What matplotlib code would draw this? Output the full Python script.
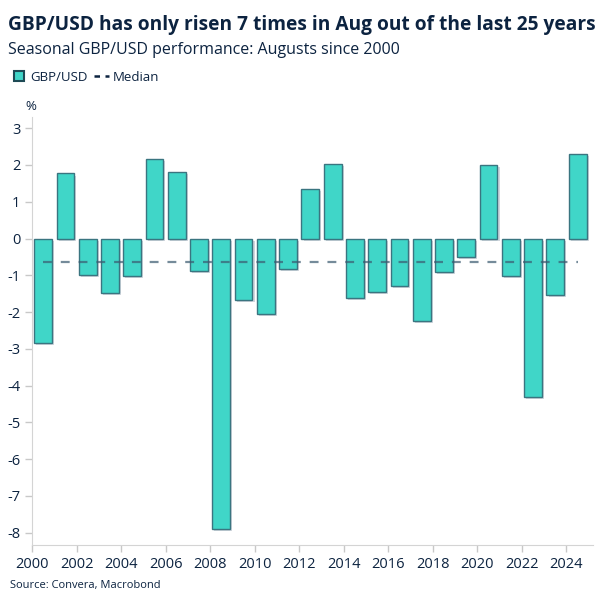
import matplotlib
matplotlib.use("Agg")
import matplotlib.pyplot as plt
from matplotlib.lines import Line2D
from matplotlib import patheffects as pe

years = list(range(2000, 2025))
changes = [-2.85, 1.77, -0.98, -1.49, -1.03, 2.17, 1.82, -0.87, -7.90, -1.68,
           -2.04, -0.82, 1.35, 2.03, -1.62, -1.45, -1.29, -2.24, -0.90, -0.49,
           2.00, -1.03, -4.32, -1.53, 2.30]
median_value = -0.65
xticks = list(range(2000, 2025, 2))
yticks = list(range(-8, 4))

navy = "#0c2340"
face = "#40d6c8"
edge = "#3a7580"

plt.rcParams['font.family'] = ['Open Sans', 'DejaVu Sans']
plt.rcParams['axes.unicode_minus'] = False

fig = plt.figure(figsize=(6.04, 6.04), dpi=100)
ax = fig.add_axes([0.053, 0.098, 0.928, 0.708])

pos = [y + 0.5 for y in years]
bars = ax.bar(pos, changes, width=0.8, color=face, edgecolor=edge, linewidth=1.0, zorder=2)
for b in bars:
    b.set_path_effects([pe.SimplePatchShadow(offset=(1.5, -1.5), shadow_rgbFace="#9aa6b4", alpha=0.45),
                        pe.Normal()])

# median line across the bar centres
ax.plot([pos[0], pos[-1]], [median_value, median_value], linestyle=(0, (4, 4)),
        color="#3b5a70", alpha=0.7, linewidth=1.6, zorder=3)

ax.set_xlim(2000, 2025.17)
ax.set_ylim(-8.33, 3.3)
ax.set_xticks(xticks)
ax.set_xticklabels([str(t) for t in xticks])
ax.set_yticks(yticks)
ax.tick_params(colors="#c8c8c8", labelcolor=navy, labelsize=10.5, length=5, width=1)
ax.tick_params(axis="x", pad=4)
for s in ["top", "right"]:
    ax.spines[s].set_visible(False)
for s in ["left", "bottom"]:
    ax.spines[s].set_color("#d4d4d4")

fig.text(0.013, 0.958, "GBP/USD has only risen 7 times in Aug out of the last 25 years",
         fontsize=13.8, fontweight="bold", color=navy, va="center")
fig.text(0.013, 0.918, "Seasonal GBP/USD performance: Augusts since 2000",
         fontsize=11.5, color=navy, va="center")
fig.text(0.042, 0.823, "%", fontsize=9.5, color=navy, va="center")
fig.text(0.017, 0.031, "Source: Convera, Macrobond", fontsize=8, color=navy, va="center")

handles = [Line2D([], [], marker="s", markersize=6.5, markerfacecolor=face,
                  markeredgecolor="#1e4a55", markeredgewidth=1.5, linestyle="None"),
           Line2D([0], [0], color=navy, linestyle=(0, (2.2, 2.2)), linewidth=1.8)]
fig.legend(handles, ["GBP/USD", "Median"], loc="center left", bbox_to_anchor=(0.0, 0.872),
           ncol=2, frameon=False, fontsize=9.5, handlelength=1.1,
           handletextpad=0.3, columnspacing=0.5, labelcolor=navy)
ax.get_figure().legends[0].legend_handles[0].set_markersize(6.5)

fig.savefig("out.png", dpi=100)
